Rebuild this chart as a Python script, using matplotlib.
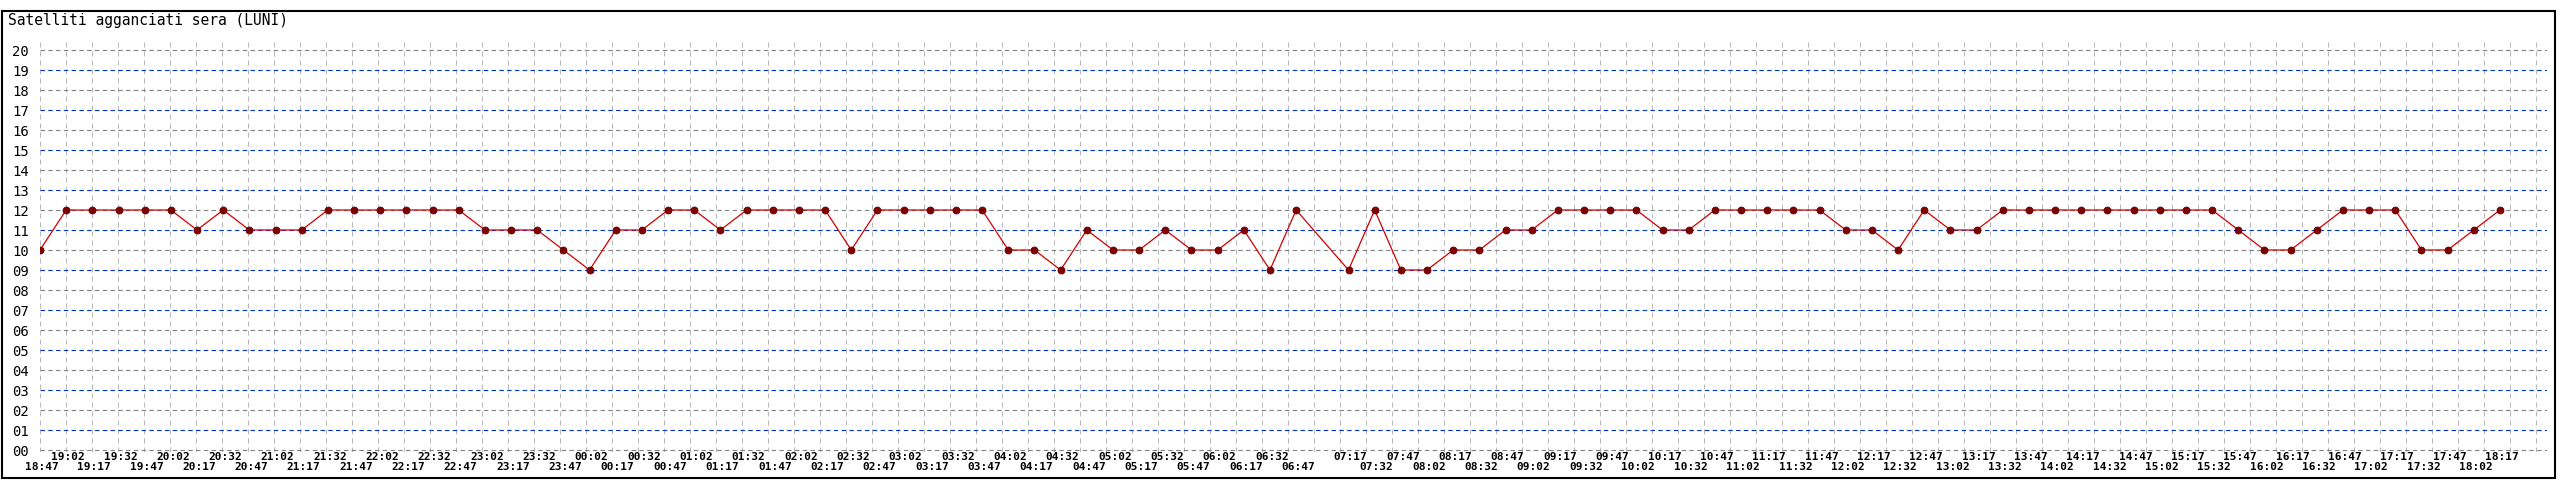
import matplotlib
matplotlib.use('Agg')
import matplotlib.pyplot as plt
from matplotlib.patches import Rectangle
import matplotlib.transforms as mtransforms

# Satelliti agganciati, una lettura ogni 15 minuti (manca 07:02)
times = ['18:47', '19:02', '19:17', '19:32', '19:47', '20:02', '20:17', '20:32', '20:47', '21:02',
         '21:17', '21:32', '21:47', '22:02', '22:17', '22:32', '22:47', '23:02', '23:17', '23:32',
         '23:47', '00:02', '00:17', '00:32', '00:47', '01:02', '01:17', '01:32', '01:47', '02:02',
         '02:17', '02:32', '02:47', '03:02', '03:17', '03:32', '03:47', '04:02', '04:17', '04:32',
         '04:47', '05:02', '05:17', '05:32', '05:47', '06:02', '06:17', '06:32', '06:47',
         '07:17', '07:32', '07:47', '08:02', '08:17', '08:32', '08:47', '09:02', '09:17', '09:32',
         '09:47', '10:02', '10:17', '10:32', '10:47', '11:02', '11:17', '11:32', '11:47', '12:02',
         '12:17', '12:32', '12:47', '13:02', '13:17', '13:32', '13:47', '14:02', '14:17', '14:32',
         '14:47', '15:02', '15:17', '15:32', '15:47', '16:02', '16:17', '16:32', '16:47', '17:02',
         '17:17', '17:32', '17:47', '18:02', '18:17']
sats = [10, 12, 12, 12, 12, 12, 11, 12, 11, 11, 11, 12, 12, 12, 12, 12, 12, 11, 11, 11,
        10, 9, 11, 11, 12, 12, 11, 12, 12, 12, 12, 10, 12, 12, 12, 12, 12, 10, 10, 9,
        11, 10, 10, 11, 10, 10, 11, 9, 12,
        9, 12, 9, 9, 10, 10, 11, 11, 12, 12, 12, 12, 11, 11, 12, 12, 12, 12, 12, 11,
        11, 10, 12, 11, 11, 12, 12, 12, 12, 12, 12, 12, 12, 12, 11, 10, 10, 11, 12, 12,
        12, 10, 10, 11, 12]
title = 'Satelliti agganciati sera (LUNI)'

W, H = 2560, 480
slot_px = 26.17   # pixel per 15 minuti
grid_px = 26.0    # passo della griglia verticale

def tomin(s):
    h, m = s.split(':')
    return int(h) * 60 + int(m)

t0 = tomin(times[0])
xs = [((tomin(t) - t0) % 1440) / 15.0 for t in times]

fig = plt.figure(figsize=(W / 100, H / 100), dpi=100)
fig.patch.set_facecolor('white')
fig.patches.append(Rectangle((2 / W, 1 - 478 / H), (2555 - 2) / W, (478 - 11) / H,
                             transform=fig.transFigure, fill=False, ec='black', lw=1.5))

left, right, top, bottom = 40, 2547, 40, 452
ax = fig.add_axes([left / W, 1 - bottom / H, (right - left) / W, (bottom - top) / H])
ax.set_xlim(0, (right - left) / slot_px)
ax.set_ylim(-0.1, 20.5)
for s in ax.spines.values():
    s.set_visible(False)

mono = 'DejaVu Sans Mono'

# griglia
nvert = int((right - left) / grid_px) + 1
for k in range(nvert):
    ax.axvline(k * grid_px / slot_px, color='#b8b8b8', lw=0.72, dashes=(5, 4), zorder=1)
for v in range(21):
    col = '#0033cc' if v % 2 else '#808080'
    ax.axhline(v, color=col, lw=0.8, dashes=(4, 3), zorder=2)

ax.plot(xs, sats, color='#d00000', lw=0.9, zorder=3,
        marker='o', ms=5, mfc='#800000', mec='#600000', mew=0.6)

ax.set_yticks(range(21))
ax.set_yticklabels([f'{v:02d}' for v in range(21)], fontfamily=mono, fontsize=10)
ax.tick_params(axis='y', length=0, pad=8)
ax.set_xticks([])

# etichette orarie su due righe alternate
trans = mtransforms.blended_transform_factory(ax.transData, fig.transFigure)
trans = trans + mtransforms.ScaledTranslation(2 / 100, 0, fig.dpi_scale_trans)
for i, (x, t) in enumerate(zip(xs, times)):
    ypix = 457.5 if i % 2 else 467.5
    ax.text(x, 1 - ypix / H, t, transform=trans, ha='center', va='center',
            fontfamily=mono, fontsize=8, fontweight='bold', clip_on=False)

fig.text(8 / W, 1 - 21 / H, title, fontfamily=mono, fontsize=10.5, va='center', ha='left')

fig.savefig('out.png', dpi=100)
